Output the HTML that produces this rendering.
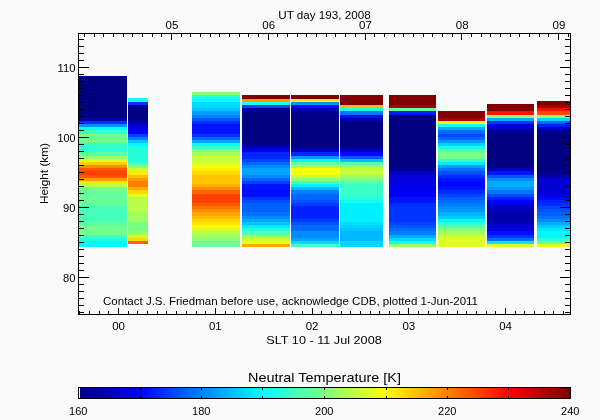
<!DOCTYPE html>
<html><head><meta charset="utf-8"><title>Neutral Temperature</title>
<style>html,body{margin:0;padding:0;background:#fafafa;}body{width:600px;height:420px;overflow:hidden;}svg{display:block;}text{font-family:"Liberation Sans",sans-serif;fill:#000;}</style></head><body>
<svg width="600" height="420" viewBox="0 0 600 420">
<rect x="0" y="0" width="600" height="420" fill="#fafafa"/>
<defs><linearGradient id="jet" x1="0" y1="0" x2="1" y2="0">
<stop offset="0.0000" stop-color="#000080"/>
<stop offset="0.1250" stop-color="#0000ff"/>
<stop offset="0.2500" stop-color="#0080ff"/>
<stop offset="0.3750" stop-color="#00ffff"/>
<stop offset="0.5000" stop-color="#80ff80"/>
<stop offset="0.6250" stop-color="#ffff00"/>
<stop offset="0.7500" stop-color="#ff8000"/>
<stop offset="0.8750" stop-color="#ff0000"/>
<stop offset="1.0000" stop-color="#800000"/>
</linearGradient></defs>
<g shape-rendering="crispEdges">
<rect x="79" y="76" width="48" height="42" fill="#000080"/>
<rect x="79" y="118" width="48" height="3" fill="#0000ac"/>
<rect x="79" y="121" width="48" height="3" fill="#0033ff"/>
<rect x="79" y="124" width="48" height="3" fill="#0093ff"/>
<rect x="79" y="127" width="48" height="3" fill="#00ffff"/>
<rect x="79" y="130" width="48" height="4" fill="#39ffc6"/>
<rect x="79" y="134" width="48" height="9" fill="#73ff8c"/>
<rect x="79" y="143" width="48" height="9" fill="#33ffcc"/>
<rect x="79" y="152" width="48" height="4" fill="#59ffa6"/>
<rect x="79" y="156" width="48" height="3" fill="#99ff66"/>
<rect x="79" y="159" width="48" height="3" fill="#dfff20"/>
<rect x="79" y="162" width="48" height="3" fill="#ffcc00"/>
<rect x="79" y="165" width="48" height="3" fill="#ff8c00"/>
<rect x="79" y="168" width="48" height="3" fill="#ff5900"/>
<rect x="79" y="171" width="48" height="4" fill="#ff4000"/>
<rect x="79" y="175" width="48" height="3" fill="#ff5900"/>
<rect x="79" y="178" width="48" height="3" fill="#ff9900"/>
<rect x="79" y="181" width="48" height="3" fill="#ffe500"/>
<rect x="79" y="184" width="48" height="3" fill="#bfff40"/>
<rect x="79" y="187" width="48" height="3" fill="#79ff86"/>
<rect x="79" y="190" width="48" height="16" fill="#66ff99"/>
<rect x="79" y="206" width="48" height="16" fill="#46ffb9"/>
<rect x="79" y="222" width="48" height="3" fill="#59ffa6"/>
<rect x="79" y="225" width="48" height="10" fill="#73ff8c"/>
<rect x="79" y="235" width="48" height="3" fill="#46ffb9"/>
<rect x="79" y="238" width="48" height="3" fill="#1affe5"/>
<rect x="79" y="241" width="48" height="6" fill="#00f9ff"/>
<rect x="128" y="98" width="20" height="4" fill="#13ffec"/>
<rect x="128" y="102" width="20" height="3" fill="#0033ff"/>
<rect x="128" y="105" width="20" height="3" fill="#0000a6"/>
<rect x="128" y="108" width="20" height="10" fill="#000080"/>
<rect x="128" y="118" width="20" height="3" fill="#00008c"/>
<rect x="128" y="121" width="20" height="3" fill="#0000ac"/>
<rect x="128" y="124" width="20" height="3" fill="#0000d2"/>
<rect x="128" y="127" width="20" height="3" fill="#0000e6"/>
<rect x="128" y="130" width="20" height="4" fill="#0000f9"/>
<rect x="128" y="134" width="20" height="3" fill="#0040ff"/>
<rect x="128" y="137" width="20" height="3" fill="#0080ff"/>
<rect x="128" y="140" width="20" height="3" fill="#00c6ff"/>
<rect x="128" y="143" width="20" height="3" fill="#00f9ff"/>
<rect x="128" y="146" width="20" height="10" fill="#26ffd9"/>
<rect x="128" y="156" width="20" height="6" fill="#20ffdf"/>
<rect x="128" y="162" width="20" height="3" fill="#40ffbf"/>
<rect x="128" y="165" width="20" height="3" fill="#80ff80"/>
<rect x="128" y="168" width="20" height="3" fill="#ccff33"/>
<rect x="128" y="171" width="20" height="4" fill="#ffec00"/>
<rect x="128" y="175" width="20" height="3" fill="#ffbf00"/>
<rect x="128" y="178" width="20" height="3" fill="#ff9900"/>
<rect x="128" y="181" width="20" height="6" fill="#ff8000"/>
<rect x="128" y="187" width="20" height="3" fill="#ffac00"/>
<rect x="128" y="190" width="20" height="4" fill="#ffd900"/>
<rect x="128" y="194" width="20" height="3" fill="#e5ff1a"/>
<rect x="128" y="197" width="20" height="15" fill="#b9ff46"/>
<rect x="128" y="212" width="20" height="10" fill="#9fff60"/>
<rect x="128" y="222" width="20" height="9" fill="#79ff86"/>
<rect x="128" y="231" width="20" height="4" fill="#9fff60"/>
<rect x="128" y="235" width="20" height="3" fill="#ccff33"/>
<rect x="128" y="238" width="20" height="3" fill="#ffd900"/>
<rect x="128" y="241" width="20" height="3" fill="#ff6000"/>
<rect x="192" y="92" width="48" height="3" fill="#8cff73"/>
<rect x="192" y="95" width="48" height="4" fill="#20ffdf"/>
<rect x="192" y="99" width="48" height="3" fill="#00ffff"/>
<rect x="192" y="102" width="48" height="6" fill="#00d9ff"/>
<rect x="192" y="108" width="48" height="3" fill="#00c6ff"/>
<rect x="192" y="111" width="48" height="4" fill="#009fff"/>
<rect x="192" y="115" width="48" height="3" fill="#0080ff"/>
<rect x="192" y="118" width="48" height="3" fill="#0059ff"/>
<rect x="192" y="121" width="48" height="3" fill="#0033ff"/>
<rect x="192" y="124" width="48" height="10" fill="#0013ff"/>
<rect x="192" y="134" width="48" height="3" fill="#0033ff"/>
<rect x="192" y="137" width="48" height="3" fill="#0066ff"/>
<rect x="192" y="140" width="48" height="3" fill="#00a6ff"/>
<rect x="192" y="143" width="48" height="3" fill="#00ffff"/>
<rect x="192" y="146" width="48" height="3" fill="#33ffcc"/>
<rect x="192" y="149" width="48" height="3" fill="#86ff79"/>
<rect x="192" y="152" width="48" height="4" fill="#a6ff59"/>
<rect x="192" y="156" width="48" height="6" fill="#c6ff39"/>
<rect x="192" y="162" width="48" height="3" fill="#d9ff26"/>
<rect x="192" y="165" width="48" height="3" fill="#f2ff0d"/>
<rect x="192" y="168" width="48" height="3" fill="#fff200"/>
<rect x="192" y="171" width="48" height="4" fill="#ffd900"/>
<rect x="192" y="175" width="48" height="9" fill="#ffc600"/>
<rect x="192" y="184" width="48" height="3" fill="#ffb300"/>
<rect x="192" y="187" width="48" height="3" fill="#ff8c00"/>
<rect x="192" y="190" width="48" height="4" fill="#ff6600"/>
<rect x="192" y="194" width="48" height="9" fill="#ff4000"/>
<rect x="192" y="203" width="48" height="3" fill="#ff5900"/>
<rect x="192" y="206" width="48" height="3" fill="#ff7300"/>
<rect x="192" y="209" width="48" height="3" fill="#ff8c00"/>
<rect x="192" y="212" width="48" height="4" fill="#ffa600"/>
<rect x="192" y="216" width="48" height="3" fill="#ffbf00"/>
<rect x="192" y="219" width="48" height="3" fill="#ffd200"/>
<rect x="192" y="222" width="48" height="3" fill="#ffe500"/>
<rect x="192" y="225" width="48" height="3" fill="#ffff00"/>
<rect x="192" y="228" width="48" height="3" fill="#d9ff26"/>
<rect x="192" y="231" width="48" height="4" fill="#b3ff4c"/>
<rect x="192" y="235" width="48" height="3" fill="#9fff60"/>
<rect x="192" y="238" width="48" height="3" fill="#86ff79"/>
<rect x="192" y="241" width="48" height="6" fill="#6cff93"/>
<rect x="242" y="95" width="48" height="4" fill="#800000"/>
<rect x="242" y="99" width="48" height="3" fill="#ff9900"/>
<rect x="242" y="102" width="48" height="3" fill="#20ffdf"/>
<rect x="242" y="105" width="48" height="3" fill="#0046ff"/>
<rect x="242" y="108" width="48" height="3" fill="#000093"/>
<rect x="242" y="111" width="48" height="32" fill="#000080"/>
<rect x="242" y="143" width="48" height="3" fill="#000093"/>
<rect x="242" y="146" width="48" height="3" fill="#0000bf"/>
<rect x="242" y="149" width="48" height="3" fill="#0000f2"/>
<rect x="242" y="152" width="48" height="7" fill="#0026ff"/>
<rect x="242" y="159" width="48" height="3" fill="#0046ff"/>
<rect x="242" y="162" width="48" height="3" fill="#0066ff"/>
<rect x="242" y="165" width="48" height="3" fill="#008cff"/>
<rect x="242" y="168" width="48" height="7" fill="#00a6ff"/>
<rect x="242" y="175" width="48" height="3" fill="#008cff"/>
<rect x="242" y="178" width="48" height="3" fill="#0066ff"/>
<rect x="242" y="181" width="48" height="3" fill="#0040ff"/>
<rect x="242" y="184" width="48" height="6" fill="#0013ff"/>
<rect x="242" y="190" width="48" height="7" fill="#000dff"/>
<rect x="242" y="197" width="48" height="3" fill="#0033ff"/>
<rect x="242" y="200" width="48" height="3" fill="#004dff"/>
<rect x="242" y="203" width="48" height="9" fill="#0060ff"/>
<rect x="242" y="212" width="48" height="4" fill="#0073ff"/>
<rect x="242" y="216" width="48" height="3" fill="#008cff"/>
<rect x="242" y="219" width="48" height="3" fill="#00a6ff"/>
<rect x="242" y="222" width="48" height="3" fill="#00c6ff"/>
<rect x="242" y="225" width="48" height="3" fill="#00ecff"/>
<rect x="242" y="228" width="48" height="3" fill="#20ffdf"/>
<rect x="242" y="231" width="48" height="4" fill="#59ffa6"/>
<rect x="242" y="235" width="48" height="3" fill="#93ff6c"/>
<rect x="242" y="238" width="48" height="3" fill="#c6ff39"/>
<rect x="242" y="241" width="48" height="3" fill="#ffff00"/>
<rect x="242" y="244" width="48" height="3" fill="#ffa600"/>
<rect x="291" y="95" width="48" height="4" fill="#800000"/>
<rect x="291" y="99" width="48" height="3" fill="#fff200"/>
<rect x="291" y="102" width="48" height="3" fill="#0093ff"/>
<rect x="291" y="105" width="48" height="3" fill="#000dff"/>
<rect x="291" y="108" width="48" height="3" fill="#0000b2"/>
<rect x="291" y="111" width="48" height="4" fill="#00008c"/>
<rect x="291" y="115" width="48" height="31" fill="#000080"/>
<rect x="291" y="146" width="48" height="3" fill="#000093"/>
<rect x="291" y="149" width="48" height="3" fill="#0000cc"/>
<rect x="291" y="152" width="48" height="4" fill="#0026ff"/>
<rect x="291" y="156" width="48" height="3" fill="#0099ff"/>
<rect x="291" y="159" width="48" height="3" fill="#00f9ff"/>
<rect x="291" y="162" width="48" height="3" fill="#66ff99"/>
<rect x="291" y="165" width="48" height="3" fill="#acff53"/>
<rect x="291" y="168" width="48" height="7" fill="#f9ff06"/>
<rect x="291" y="175" width="48" height="3" fill="#ccff33"/>
<rect x="291" y="178" width="48" height="3" fill="#93ff6c"/>
<rect x="291" y="181" width="48" height="3" fill="#46ffb9"/>
<rect x="291" y="184" width="48" height="3" fill="#00f2ff"/>
<rect x="291" y="187" width="48" height="3" fill="#00b9ff"/>
<rect x="291" y="190" width="48" height="4" fill="#0080ff"/>
<rect x="291" y="194" width="48" height="6" fill="#0066ff"/>
<rect x="291" y="200" width="48" height="3" fill="#0053ff"/>
<rect x="291" y="203" width="48" height="3" fill="#0039ff"/>
<rect x="291" y="206" width="48" height="13" fill="#0020ff"/>
<rect x="291" y="219" width="48" height="3" fill="#0039ff"/>
<rect x="291" y="222" width="48" height="3" fill="#0053ff"/>
<rect x="291" y="225" width="48" height="6" fill="#006cff"/>
<rect x="291" y="231" width="48" height="7" fill="#008cff"/>
<rect x="291" y="238" width="48" height="3" fill="#00a6ff"/>
<rect x="291" y="241" width="48" height="3" fill="#00d9ff"/>
<rect x="291" y="244" width="48" height="3" fill="#46ffb9"/>
<rect x="340" y="95" width="43" height="10" fill="#800000"/>
<rect x="340" y="105" width="43" height="3" fill="#ffb900"/>
<rect x="340" y="108" width="43" height="3" fill="#20ffdf"/>
<rect x="340" y="111" width="43" height="4" fill="#0079ff"/>
<rect x="340" y="115" width="43" height="3" fill="#000dff"/>
<rect x="340" y="118" width="43" height="3" fill="#0000b2"/>
<rect x="340" y="121" width="43" height="25" fill="#000080"/>
<rect x="340" y="146" width="43" height="3" fill="#000093"/>
<rect x="340" y="149" width="43" height="3" fill="#0000bf"/>
<rect x="340" y="152" width="43" height="4" fill="#0006ff"/>
<rect x="340" y="156" width="43" height="3" fill="#0059ff"/>
<rect x="340" y="159" width="43" height="3" fill="#00bfff"/>
<rect x="340" y="162" width="43" height="3" fill="#59ffa6"/>
<rect x="340" y="165" width="43" height="3" fill="#99ff66"/>
<rect x="340" y="168" width="43" height="7" fill="#c6ff39"/>
<rect x="340" y="175" width="43" height="3" fill="#9fff60"/>
<rect x="340" y="178" width="43" height="3" fill="#79ff86"/>
<rect x="340" y="181" width="43" height="3" fill="#59ffa6"/>
<rect x="340" y="184" width="43" height="10" fill="#39ffc6"/>
<rect x="340" y="194" width="43" height="3" fill="#33ffcc"/>
<rect x="340" y="197" width="43" height="3" fill="#26ffd9"/>
<rect x="340" y="200" width="43" height="3" fill="#13ffec"/>
<rect x="340" y="203" width="43" height="19" fill="#00f0ff"/>
<rect x="340" y="222" width="43" height="3" fill="#00dfff"/>
<rect x="340" y="225" width="43" height="3" fill="#00d2ff"/>
<rect x="340" y="228" width="43" height="3" fill="#00c6ff"/>
<rect x="340" y="231" width="43" height="10" fill="#00b9ff"/>
<rect x="340" y="241" width="43" height="6" fill="#00d9ff"/>
<rect x="389" y="95" width="47" height="10" fill="#800000"/>
<rect x="389" y="105" width="47" height="3" fill="#a60000"/>
<rect x="389" y="108" width="47" height="3" fill="#66ff99"/>
<rect x="389" y="111" width="47" height="4" fill="#001aff"/>
<rect x="389" y="115" width="47" height="53" fill="#000080"/>
<rect x="389" y="168" width="47" height="3" fill="#000093"/>
<rect x="389" y="171" width="47" height="4" fill="#0000bf"/>
<rect x="389" y="175" width="47" height="9" fill="#0000d9"/>
<rect x="389" y="184" width="47" height="6" fill="#0000ec"/>
<rect x="389" y="190" width="47" height="7" fill="#0000f9"/>
<rect x="389" y="197" width="47" height="6" fill="#0013ff"/>
<rect x="389" y="203" width="47" height="3" fill="#002dff"/>
<rect x="389" y="206" width="47" height="16" fill="#0033ff"/>
<rect x="389" y="222" width="47" height="3" fill="#0046ff"/>
<rect x="389" y="225" width="47" height="3" fill="#0053ff"/>
<rect x="389" y="228" width="47" height="3" fill="#006cff"/>
<rect x="389" y="231" width="47" height="4" fill="#0080ff"/>
<rect x="389" y="235" width="47" height="3" fill="#00acff"/>
<rect x="389" y="238" width="47" height="3" fill="#00d9ff"/>
<rect x="389" y="241" width="47" height="3" fill="#13ffec"/>
<rect x="389" y="244" width="47" height="3" fill="#99ff66"/>
<rect x="438" y="111" width="47" height="7" fill="#800000"/>
<rect x="438" y="118" width="47" height="3" fill="#b30000"/>
<rect x="438" y="121" width="47" height="3" fill="#fff900"/>
<rect x="438" y="124" width="47" height="3" fill="#13ffec"/>
<rect x="438" y="127" width="47" height="3" fill="#00acff"/>
<rect x="438" y="130" width="47" height="4" fill="#006cff"/>
<rect x="438" y="134" width="47" height="3" fill="#0046ff"/>
<rect x="438" y="137" width="47" height="3" fill="#0066ff"/>
<rect x="438" y="140" width="47" height="3" fill="#0099ff"/>
<rect x="438" y="143" width="47" height="3" fill="#00d2ff"/>
<rect x="438" y="146" width="47" height="3" fill="#0dfff2"/>
<rect x="438" y="149" width="47" height="3" fill="#53ffac"/>
<rect x="438" y="152" width="47" height="7" fill="#79ff86"/>
<rect x="438" y="159" width="47" height="3" fill="#33ffcc"/>
<rect x="438" y="162" width="47" height="3" fill="#00ecff"/>
<rect x="438" y="165" width="47" height="3" fill="#009fff"/>
<rect x="438" y="168" width="47" height="3" fill="#0073ff"/>
<rect x="438" y="171" width="47" height="4" fill="#004dff"/>
<rect x="438" y="175" width="47" height="3" fill="#002dff"/>
<rect x="438" y="178" width="47" height="3" fill="#0013ff"/>
<rect x="438" y="181" width="47" height="6" fill="#0006ff"/>
<rect x="438" y="187" width="47" height="3" fill="#0013ff"/>
<rect x="438" y="190" width="47" height="4" fill="#002dff"/>
<rect x="438" y="194" width="47" height="3" fill="#0046ff"/>
<rect x="438" y="197" width="47" height="3" fill="#0059ff"/>
<rect x="438" y="200" width="47" height="3" fill="#006cff"/>
<rect x="438" y="203" width="47" height="3" fill="#0079ff"/>
<rect x="438" y="206" width="47" height="3" fill="#008cff"/>
<rect x="438" y="209" width="47" height="3" fill="#0099ff"/>
<rect x="438" y="212" width="47" height="4" fill="#00b2ff"/>
<rect x="438" y="216" width="47" height="3" fill="#00ccff"/>
<rect x="438" y="219" width="47" height="3" fill="#00f9ff"/>
<rect x="438" y="222" width="47" height="3" fill="#2dffd2"/>
<rect x="438" y="225" width="47" height="3" fill="#59ffa6"/>
<rect x="438" y="228" width="47" height="3" fill="#86ff79"/>
<rect x="438" y="231" width="47" height="4" fill="#a6ff59"/>
<rect x="438" y="235" width="47" height="3" fill="#ccff33"/>
<rect x="438" y="238" width="47" height="9" fill="#dfff20"/>
<rect x="487" y="104" width="47" height="7" fill="#800000"/>
<rect x="487" y="111" width="47" height="4" fill="#ff1300"/>
<rect x="487" y="115" width="47" height="3" fill="#93ff6c"/>
<rect x="487" y="118" width="47" height="3" fill="#00acff"/>
<rect x="487" y="121" width="47" height="3" fill="#0033ff"/>
<rect x="487" y="124" width="47" height="3" fill="#0000df"/>
<rect x="487" y="127" width="47" height="3" fill="#0000bf"/>
<rect x="487" y="130" width="47" height="4" fill="#000099"/>
<rect x="487" y="134" width="47" height="34" fill="#000080"/>
<rect x="487" y="168" width="47" height="3" fill="#0000bf"/>
<rect x="487" y="171" width="47" height="4" fill="#0013ff"/>
<rect x="487" y="175" width="47" height="3" fill="#0059ff"/>
<rect x="487" y="178" width="47" height="3" fill="#008cff"/>
<rect x="487" y="181" width="47" height="6" fill="#00acff"/>
<rect x="487" y="187" width="47" height="3" fill="#0099ff"/>
<rect x="487" y="190" width="47" height="4" fill="#0073ff"/>
<rect x="487" y="194" width="47" height="3" fill="#004dff"/>
<rect x="487" y="197" width="47" height="3" fill="#0020ff"/>
<rect x="487" y="200" width="47" height="3" fill="#0000ff"/>
<rect x="487" y="203" width="47" height="3" fill="#0000d9"/>
<rect x="487" y="206" width="47" height="3" fill="#0000c6"/>
<rect x="487" y="209" width="47" height="3" fill="#0000b2"/>
<rect x="487" y="212" width="47" height="10" fill="#0000aa"/>
<rect x="487" y="222" width="47" height="3" fill="#0000b9"/>
<rect x="487" y="225" width="47" height="3" fill="#0000d2"/>
<rect x="487" y="228" width="47" height="3" fill="#0000e6"/>
<rect x="487" y="231" width="47" height="4" fill="#000dff"/>
<rect x="487" y="235" width="47" height="3" fill="#0033ff"/>
<rect x="487" y="238" width="47" height="3" fill="#006cff"/>
<rect x="487" y="241" width="47" height="3" fill="#00e5ff"/>
<rect x="487" y="244" width="47" height="3" fill="#d9ff26"/>
<rect x="537" y="101" width="33" height="4" fill="#800000"/>
<rect x="537" y="105" width="33" height="3" fill="#a60000"/>
<rect x="537" y="108" width="33" height="3" fill="#ff0d00"/>
<rect x="537" y="111" width="33" height="4" fill="#ff4c00"/>
<rect x="537" y="115" width="33" height="3" fill="#99ff66"/>
<rect x="537" y="118" width="33" height="3" fill="#00d9ff"/>
<rect x="537" y="121" width="33" height="3" fill="#0066ff"/>
<rect x="537" y="124" width="33" height="3" fill="#0020ff"/>
<rect x="537" y="127" width="33" height="3" fill="#0000cc"/>
<rect x="537" y="130" width="33" height="4" fill="#000093"/>
<rect x="537" y="134" width="33" height="37" fill="#000080"/>
<rect x="537" y="171" width="33" height="4" fill="#00008c"/>
<rect x="537" y="175" width="33" height="3" fill="#0000ac"/>
<rect x="537" y="178" width="33" height="16" fill="#0000d2"/>
<rect x="537" y="194" width="33" height="3" fill="#0000e6"/>
<rect x="537" y="197" width="33" height="3" fill="#0006ff"/>
<rect x="537" y="200" width="33" height="3" fill="#0020ff"/>
<rect x="537" y="203" width="33" height="3" fill="#002dff"/>
<rect x="537" y="206" width="33" height="3" fill="#0046ff"/>
<rect x="537" y="209" width="33" height="3" fill="#0053ff"/>
<rect x="537" y="212" width="33" height="4" fill="#0060ff"/>
<rect x="537" y="216" width="33" height="3" fill="#0073ff"/>
<rect x="537" y="219" width="33" height="3" fill="#008cff"/>
<rect x="537" y="222" width="33" height="3" fill="#00acff"/>
<rect x="537" y="225" width="33" height="3" fill="#00ccff"/>
<rect x="537" y="228" width="33" height="3" fill="#00e5ff"/>
<rect x="537" y="231" width="33" height="7" fill="#00f9ff"/>
<rect x="537" y="238" width="33" height="3" fill="#33ffcc"/>
<rect x="537" y="241" width="33" height="3" fill="#73ff8c"/>
<rect x="537" y="244" width="33" height="3" fill="#e5ff1a"/>
</g>
<g shape-rendering="crispEdges" fill="#000">
<rect x="78" y="33" width="493" height="1"/>
<rect x="78" y="314" width="493" height="1"/>
<rect x="78" y="33" width="1" height="282"/>
<rect x="570" y="33" width="1" height="282"/>
<rect x="79" y="312" width="5" height="1"/>
<rect x="565" y="312" width="5" height="1"/>
<rect x="79" y="305" width="5" height="1"/>
<rect x="565" y="305" width="5" height="1"/>
<rect x="79" y="298" width="5" height="1"/>
<rect x="565" y="298" width="5" height="1"/>
<rect x="79" y="291" width="5" height="1"/>
<rect x="565" y="291" width="5" height="1"/>
<rect x="79" y="284" width="5" height="1"/>
<rect x="565" y="284" width="5" height="1"/>
<rect x="79" y="277" width="10" height="1"/>
<rect x="560" y="277" width="10" height="1"/>
<rect x="79" y="270" width="5" height="1"/>
<rect x="565" y="270" width="5" height="1"/>
<rect x="79" y="263" width="5" height="1"/>
<rect x="565" y="263" width="5" height="1"/>
<rect x="79" y="256" width="5" height="1"/>
<rect x="565" y="256" width="5" height="1"/>
<rect x="79" y="249" width="5" height="1"/>
<rect x="565" y="249" width="5" height="1"/>
<rect x="79" y="242" width="5" height="1"/>
<rect x="565" y="242" width="5" height="1"/>
<rect x="79" y="235" width="5" height="1"/>
<rect x="565" y="235" width="5" height="1"/>
<rect x="79" y="228" width="5" height="1"/>
<rect x="565" y="228" width="5" height="1"/>
<rect x="79" y="221" width="5" height="1"/>
<rect x="565" y="221" width="5" height="1"/>
<rect x="79" y="214" width="5" height="1"/>
<rect x="565" y="214" width="5" height="1"/>
<rect x="79" y="207" width="10" height="1"/>
<rect x="560" y="207" width="10" height="1"/>
<rect x="79" y="200" width="5" height="1"/>
<rect x="565" y="200" width="5" height="1"/>
<rect x="79" y="193" width="5" height="1"/>
<rect x="565" y="193" width="5" height="1"/>
<rect x="79" y="186" width="5" height="1"/>
<rect x="565" y="186" width="5" height="1"/>
<rect x="79" y="179" width="5" height="1"/>
<rect x="565" y="179" width="5" height="1"/>
<rect x="79" y="172" width="5" height="1"/>
<rect x="565" y="172" width="5" height="1"/>
<rect x="79" y="165" width="5" height="1"/>
<rect x="565" y="165" width="5" height="1"/>
<rect x="79" y="158" width="5" height="1"/>
<rect x="565" y="158" width="5" height="1"/>
<rect x="79" y="151" width="5" height="1"/>
<rect x="565" y="151" width="5" height="1"/>
<rect x="79" y="144" width="5" height="1"/>
<rect x="565" y="144" width="5" height="1"/>
<rect x="79" y="137" width="10" height="1"/>
<rect x="560" y="137" width="10" height="1"/>
<rect x="79" y="130" width="5" height="1"/>
<rect x="565" y="130" width="5" height="1"/>
<rect x="79" y="123" width="5" height="1"/>
<rect x="565" y="123" width="5" height="1"/>
<rect x="79" y="116" width="5" height="1"/>
<rect x="565" y="116" width="5" height="1"/>
<rect x="79" y="109" width="5" height="1"/>
<rect x="565" y="109" width="5" height="1"/>
<rect x="79" y="102" width="5" height="1"/>
<rect x="565" y="102" width="5" height="1"/>
<rect x="79" y="95" width="5" height="1"/>
<rect x="565" y="95" width="5" height="1"/>
<rect x="79" y="88" width="5" height="1"/>
<rect x="565" y="88" width="5" height="1"/>
<rect x="79" y="81" width="5" height="1"/>
<rect x="565" y="81" width="5" height="1"/>
<rect x="79" y="74" width="5" height="1"/>
<rect x="565" y="74" width="5" height="1"/>
<rect x="79" y="67" width="10" height="1"/>
<rect x="560" y="67" width="10" height="1"/>
<rect x="79" y="60" width="5" height="1"/>
<rect x="565" y="60" width="5" height="1"/>
<rect x="79" y="53" width="5" height="1"/>
<rect x="565" y="53" width="5" height="1"/>
<rect x="79" y="46" width="5" height="1"/>
<rect x="565" y="46" width="5" height="1"/>
<rect x="79" y="39" width="5" height="1"/>
<rect x="565" y="39" width="5" height="1"/>
<rect x="79" y="311" width="1" height="3"/>
<rect x="89" y="311" width="1" height="3"/>
<rect x="99" y="311" width="1" height="3"/>
<rect x="108" y="311" width="1" height="3"/>
<rect x="118" y="308" width="1" height="6"/>
<rect x="128" y="311" width="1" height="3"/>
<rect x="137" y="311" width="1" height="3"/>
<rect x="147" y="311" width="1" height="3"/>
<rect x="157" y="311" width="1" height="3"/>
<rect x="166" y="311" width="1" height="3"/>
<rect x="176" y="311" width="1" height="3"/>
<rect x="186" y="311" width="1" height="3"/>
<rect x="196" y="311" width="1" height="3"/>
<rect x="205" y="311" width="1" height="3"/>
<rect x="215" y="308" width="1" height="6"/>
<rect x="225" y="311" width="1" height="3"/>
<rect x="234" y="311" width="1" height="3"/>
<rect x="244" y="311" width="1" height="3"/>
<rect x="254" y="311" width="1" height="3"/>
<rect x="263" y="311" width="1" height="3"/>
<rect x="273" y="311" width="1" height="3"/>
<rect x="283" y="311" width="1" height="3"/>
<rect x="292" y="311" width="1" height="3"/>
<rect x="302" y="311" width="1" height="3"/>
<rect x="312" y="308" width="1" height="6"/>
<rect x="321" y="311" width="1" height="3"/>
<rect x="331" y="311" width="1" height="3"/>
<rect x="341" y="311" width="1" height="3"/>
<rect x="350" y="311" width="1" height="3"/>
<rect x="360" y="311" width="1" height="3"/>
<rect x="370" y="311" width="1" height="3"/>
<rect x="379" y="311" width="1" height="3"/>
<rect x="389" y="311" width="1" height="3"/>
<rect x="399" y="311" width="1" height="3"/>
<rect x="408" y="308" width="1" height="6"/>
<rect x="418" y="311" width="1" height="3"/>
<rect x="428" y="311" width="1" height="3"/>
<rect x="437" y="311" width="1" height="3"/>
<rect x="447" y="311" width="1" height="3"/>
<rect x="457" y="311" width="1" height="3"/>
<rect x="466" y="311" width="1" height="3"/>
<rect x="476" y="311" width="1" height="3"/>
<rect x="486" y="311" width="1" height="3"/>
<rect x="495" y="311" width="1" height="3"/>
<rect x="505" y="308" width="1" height="6"/>
<rect x="515" y="311" width="1" height="3"/>
<rect x="524" y="311" width="1" height="3"/>
<rect x="534" y="311" width="1" height="3"/>
<rect x="544" y="311" width="1" height="3"/>
<rect x="553" y="311" width="1" height="3"/>
<rect x="563" y="311" width="1" height="3"/>
<rect x="84" y="34" width="1" height="3"/>
<rect x="94" y="34" width="1" height="3"/>
<rect x="103" y="34" width="1" height="3"/>
<rect x="113" y="34" width="1" height="3"/>
<rect x="123" y="34" width="1" height="3"/>
<rect x="132" y="34" width="1" height="3"/>
<rect x="142" y="34" width="1" height="3"/>
<rect x="152" y="34" width="1" height="3"/>
<rect x="161" y="34" width="1" height="3"/>
<rect x="171" y="34" width="1" height="6"/>
<rect x="181" y="34" width="1" height="3"/>
<rect x="190" y="34" width="1" height="3"/>
<rect x="200" y="34" width="1" height="3"/>
<rect x="210" y="34" width="1" height="3"/>
<rect x="219" y="34" width="1" height="3"/>
<rect x="229" y="34" width="1" height="3"/>
<rect x="239" y="34" width="1" height="3"/>
<rect x="248" y="34" width="1" height="3"/>
<rect x="258" y="34" width="1" height="3"/>
<rect x="268" y="34" width="1" height="6"/>
<rect x="277" y="34" width="1" height="3"/>
<rect x="287" y="34" width="1" height="3"/>
<rect x="297" y="34" width="1" height="3"/>
<rect x="306" y="34" width="1" height="3"/>
<rect x="316" y="34" width="1" height="3"/>
<rect x="326" y="34" width="1" height="3"/>
<rect x="335" y="34" width="1" height="3"/>
<rect x="345" y="34" width="1" height="3"/>
<rect x="355" y="34" width="1" height="3"/>
<rect x="365" y="34" width="1" height="6"/>
<rect x="374" y="34" width="1" height="3"/>
<rect x="384" y="34" width="1" height="3"/>
<rect x="394" y="34" width="1" height="3"/>
<rect x="403" y="34" width="1" height="3"/>
<rect x="413" y="34" width="1" height="3"/>
<rect x="423" y="34" width="1" height="3"/>
<rect x="432" y="34" width="1" height="3"/>
<rect x="442" y="34" width="1" height="3"/>
<rect x="452" y="34" width="1" height="3"/>
<rect x="461" y="34" width="1" height="6"/>
<rect x="471" y="34" width="1" height="3"/>
<rect x="481" y="34" width="1" height="3"/>
<rect x="490" y="34" width="1" height="3"/>
<rect x="500" y="34" width="1" height="3"/>
<rect x="510" y="34" width="1" height="3"/>
<rect x="519" y="34" width="1" height="3"/>
<rect x="529" y="34" width="1" height="3"/>
<rect x="539" y="34" width="1" height="3"/>
<rect x="548" y="34" width="1" height="3"/>
<rect x="558" y="34" width="1" height="6"/>
<rect x="568" y="34" width="1" height="3"/>
</g>
<g shape-rendering="crispEdges">
<rect x="78" y="387" width="493" height="12" fill="#000"/>
<rect x="79" y="388" width="491" height="10" fill="url(#jet)"/>
<rect x="79" y="388" width="1" height="10" fill="#fff"/>
<rect x="140" y="388" width="1" height="2" fill="#000"/>
<rect x="140" y="396" width="1" height="2" fill="#000"/>
<rect x="201" y="388" width="1" height="2" fill="#000"/>
<rect x="201" y="396" width="1" height="2" fill="#000"/>
<rect x="262" y="388" width="1" height="2" fill="#000"/>
<rect x="262" y="396" width="1" height="2" fill="#000"/>
<rect x="324" y="388" width="1" height="2" fill="#000"/>
<rect x="324" y="396" width="1" height="2" fill="#000"/>
<rect x="386" y="388" width="1" height="2" fill="#000"/>
<rect x="386" y="396" width="1" height="2" fill="#000"/>
<rect x="447" y="388" width="1" height="2" fill="#000"/>
<rect x="447" y="396" width="1" height="2" fill="#000"/>
<rect x="508" y="388" width="1" height="2" fill="#000"/>
<rect x="508" y="396" width="1" height="2" fill="#000"/>
</g>
<text x="324.5" y="19" text-anchor="middle" font-size="10.5" textLength="92.5" lengthAdjust="spacingAndGlyphs">UT day 193, 2008</text>
<text x="171.9" y="29" text-anchor="middle" font-size="10.5" textLength="12.8" lengthAdjust="spacingAndGlyphs">05</text>
<text x="268.65" y="29" text-anchor="middle" font-size="10.5" textLength="12.8" lengthAdjust="spacingAndGlyphs">06</text>
<text x="365.4" y="29" text-anchor="middle" font-size="10.5" textLength="12.8" lengthAdjust="spacingAndGlyphs">07</text>
<text x="462.15" y="29" text-anchor="middle" font-size="10.5" textLength="12.8" lengthAdjust="spacingAndGlyphs">08</text>
<text x="558.9" y="29" text-anchor="middle" font-size="10.5" textLength="12.8" lengthAdjust="spacingAndGlyphs">09</text>
<text x="118.6" y="330" text-anchor="middle" font-size="10.5" textLength="12.8" lengthAdjust="spacingAndGlyphs">00</text>
<text x="215.35" y="330" text-anchor="middle" font-size="10.5" textLength="12.8" lengthAdjust="spacingAndGlyphs">01</text>
<text x="312.1" y="330" text-anchor="middle" font-size="10.5" textLength="12.8" lengthAdjust="spacingAndGlyphs">02</text>
<text x="408.85" y="330" text-anchor="middle" font-size="10.5" textLength="12.8" lengthAdjust="spacingAndGlyphs">03</text>
<text x="505.6" y="330" text-anchor="middle" font-size="10.5" textLength="12.8" lengthAdjust="spacingAndGlyphs">04</text>
<text x="324" y="343.5" text-anchor="middle" font-size="10.5" textLength="115.5" lengthAdjust="spacingAndGlyphs">SLT 10 - 11 Jul 2008</text>
<text x="103" y="304.5" text-anchor="start" font-size="10.5" textLength="375" lengthAdjust="spacingAndGlyphs">Contact J.S. Friedman before use, acknowledge CDB, plotted 1-Jun-2011</text>
<text x="75.5" y="282" text-anchor="end" font-size="10.5" textLength="12.5" lengthAdjust="spacingAndGlyphs">80</text>
<text x="75.5" y="212" text-anchor="end" font-size="10.5" textLength="12.5" lengthAdjust="spacingAndGlyphs">90</text>
<text x="75.5" y="142" text-anchor="end" font-size="10.5" textLength="18" lengthAdjust="spacingAndGlyphs">100</text>
<text x="75.5" y="72" text-anchor="end" font-size="10.5" textLength="18" lengthAdjust="spacingAndGlyphs">110</text>
<text transform="translate(47.5,173.5) rotate(-90)" text-anchor="middle" font-size="10.5" textLength="61" lengthAdjust="spacingAndGlyphs">Height (km)</text>
<text x="324.5" y="382" text-anchor="middle" font-size="13" textLength="153" lengthAdjust="spacingAndGlyphs">Neutral Temperature [K]</text>
<text x="78.3" y="414.5" text-anchor="middle" font-size="10.5" textLength="18.4" lengthAdjust="spacingAndGlyphs">160</text>
<text x="201.3" y="414.5" text-anchor="middle" font-size="10.5" textLength="18.4" lengthAdjust="spacingAndGlyphs">180</text>
<text x="324.3" y="414.5" text-anchor="middle" font-size="10.5" textLength="18.4" lengthAdjust="spacingAndGlyphs">200</text>
<text x="447.3" y="414.5" text-anchor="middle" font-size="10.5" textLength="18.4" lengthAdjust="spacingAndGlyphs">220</text>
<text x="570.3" y="414.5" text-anchor="middle" font-size="10.5" textLength="18.4" lengthAdjust="spacingAndGlyphs">240</text>
</svg></body></html>
